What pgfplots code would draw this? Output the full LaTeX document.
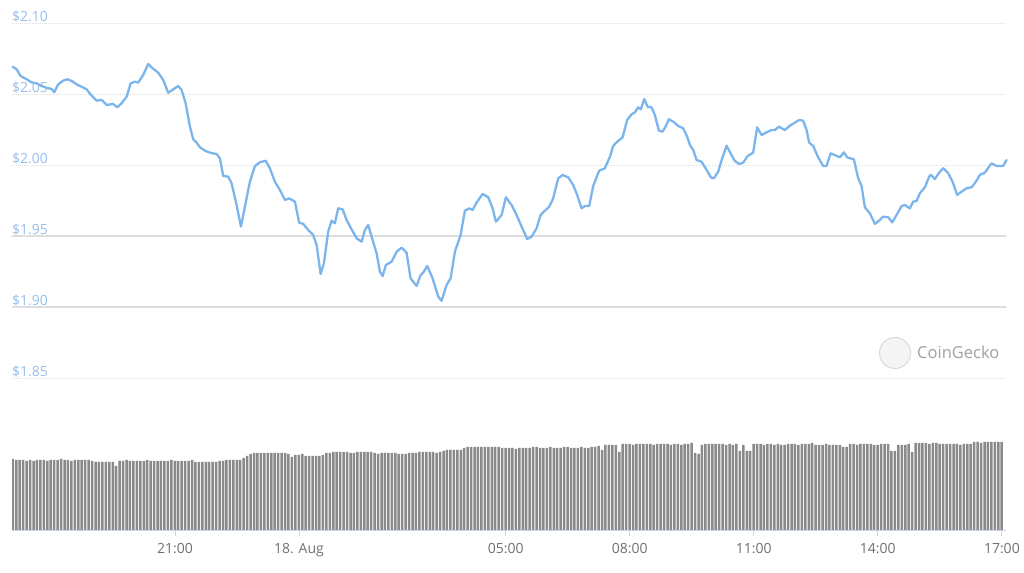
\documentclass[border=0pt]{standalone}
\usepackage{fontspec}
\setmainfont{Open Sans}
\usepackage{pgfplots}
\usepackage{pgfplotstable}
\pgfplotsset{compat=1.18}

\definecolor{linec}{RGB}{124,181,236}
\definecolor{ylab}{RGB}{150,190,236}
\definecolor{gridc}{RGB}{222,222,222}
\definecolor{barc}{RGB}{138,138,138}
\definecolor{xlab}{RGB}{112,112,112}
\definecolor{axc}{RGB}{200,212,235}
\definecolor{wmc}{RGB}{160,160,160}

% price: hours since 17:00 (17 Aug), USD
\pgfplotstableread{
t p
0.075 2.0692
0.172 2.0674
0.268 2.0627
0.414 2.0604
0.534 2.0582
0.655 2.0575
0.776 2.0556
0.897 2.0544
1.018 2.0535
1.081 2.0512
1.178 2.0568
1.299 2.0594
1.395 2.0604
1.502 2.0592
1.623 2.0568
1.744 2.0551
1.865 2.0533
1.985 2.0488
2.106 2.0453
2.227 2.0458
2.348 2.0423
2.508 2.0430
2.605 2.0406
2.711 2.0435
2.832 2.0481
2.929 2.0575
3.033 2.0587
3.112 2.0580
3.233 2.0634
3.354 2.0711
3.461 2.0681
3.596 2.0650
3.717 2.0599
3.838 2.0509
3.959 2.0533
4.080 2.0556
4.162 2.0528
4.259 2.0435
4.363 2.0270
4.443 2.0181
4.525 2.0157
4.605 2.0125
4.726 2.0101
4.846 2.0087
5.008 2.0077
5.088 2.0047
5.168 1.9923
5.289 1.9918
5.371 1.9871
5.492 1.9718
5.596 1.9566
5.693 1.9706
5.814 1.9882
5.935 1.9993
6.056 2.0019
6.193 2.0030
6.297 1.9977
6.418 1.9882
6.539 1.9824
6.660 1.9754
6.764 1.9765
6.902 1.9742
7.006 1.9594
7.103 1.9585
7.224 1.9542
7.345 1.9507
7.427 1.9437
7.524 1.9232
7.603 1.9308
7.707 1.9530
7.790 1.9608
7.869 1.9589
7.949 1.9695
8.056 1.9688
8.152 1.9613
8.273 1.9547
8.394 1.9484
8.515 1.9460
8.595 1.9542
8.675 1.9577
8.781 1.9472
8.878 1.9378
8.958 1.9249
9.023 1.9218
9.103 1.9296
9.241 1.9319
9.362 1.9389
9.482 1.9418
9.603 1.9382
9.700 1.9202
9.845 1.9148
9.942 1.9225
10.005 1.9242
10.102 1.9289
10.232 1.9202
10.368 1.9073
10.450 1.9044
10.571 1.9155
10.667 1.9202
10.772 1.9389
10.909 1.9507
11.013 1.9678
11.117 1.9695
11.200 1.9683
11.296 1.9735
11.441 1.9796
11.577 1.9773
11.683 1.9695
11.763 1.9601
11.901 1.9648
12.005 1.9773
12.143 1.9718
12.264 1.9648
12.385 1.9566
12.520 1.9479
12.626 1.9495
12.747 1.9554
12.844 1.9648
12.948 1.9678
13.052 1.9706
13.149 1.9765
13.270 1.9906
13.376 1.9930
13.512 1.9913
13.632 1.9859
13.729 1.9789
13.835 1.9695
13.915 1.9711
14.019 1.9711
14.116 1.9852
14.261 1.9960
14.399 1.9977
14.520 2.0058
14.600 2.0134
14.697 2.0164
14.827 2.0195
14.938 2.0317
15.045 2.0357
15.125 2.0371
15.204 2.0406
15.270 2.0392
15.350 2.0465
15.432 2.0411
15.528 2.0406
15.608 2.0352
15.705 2.0242
15.795 2.0235
15.867 2.0270
15.947 2.0322
16.051 2.0305
16.172 2.0275
16.293 2.0258
16.389 2.0199
16.455 2.0141
16.535 2.0106
16.617 2.0035
16.738 2.0023
16.859 1.9965
16.963 1.9913
17.035 1.9906
17.139 1.9953
17.236 2.0047
17.342 2.0136
17.439 2.0082
17.543 2.0028
17.647 2.0007
17.744 2.0016
17.850 2.0063
17.985 2.0087
18.082 2.0265
18.188 2.0211
18.309 2.0230
18.430 2.0246
18.510 2.0246
18.607 2.0270
18.752 2.0246
18.873 2.0277
18.994 2.0298
19.098 2.0317
19.194 2.0312
19.277 2.0246
19.340 2.0157
19.437 2.0134
19.557 2.0054
19.678 1.9993
19.761 1.9993
19.857 2.0082
19.961 2.0070
20.082 2.0054
20.179 2.0089
20.259 2.0054
20.421 2.0040
20.525 1.9906
20.607 1.9852
20.687 1.9702
20.808 1.9660
20.929 1.9585
21.033 1.9608
21.129 1.9636
21.250 1.9632
21.347 1.9596
21.453 1.9648
21.574 1.9711
21.654 1.9718
21.775 1.9695
21.855 1.9742
21.937 1.9746
22.017 1.9801
22.138 1.9843
22.242 1.9918
22.283 1.9930
22.380 1.9901
22.483 1.9946
22.580 1.9977
22.701 1.9942
22.808 1.9882
22.919 1.9789
23.025 1.9812
23.146 1.9836
23.267 1.9843
23.371 1.9882
23.467 1.9930
23.588 1.9946
23.750 2.0012
23.871 1.9993
24.031 1.9993
24.113 2.0035
}\price

% volume, one bar per 5 minutes (relative heights)
\pgfplotstableread[row sep=\\]{
v\\
71\\70\\70\\70\\69\\70\\69\\70\\70\\70\\69\\70\\70\\70\\71\\70\\70\\69\\70\\70\\70\\70\\70\\69\\
68\\68\\68\\68\\68\\68\\64\\
69\\69\\70\\69\\69\\69\\69\\69\\70\\69\\69\\69\\69\\69\\69\\70\\69\\69\\69\\69\\69\\70\\
68\\68\\68\\68\\68\\68\\68\\69\\69\\70\\70\\70\\70\\70\\72\\74\\
76\\77\\77\\77\\77\\77\\77\\77\\77\\77\\77\\76\\73\\75\\75\\76\\74\\74\\74\\74\\74\\75\\
77\\77\\78\\78\\78\\78\\78\\77\\77\\78\\78\\78\\78\\78\\77\\
76\\77\\77\\77\\77\\77\\76\\76\\76\\77\\77\\77\\78\\78\\78\\78\\78\\77\\78\\
79\\80\\80\\80\\80\\80\\82\\83\\83\\83\\83\\83\\83\\83\\83\\83\\83\\82\\
82\\82\\82\\81\\82\\82\\82\\82\\83\\83\\82\\82\\82\\83\\82\\
82\\82\\83\\83\\82\\82\\82\\83\\82\\82\\83\\83\\84\\80\\85\\85\\85\\85\\78\\
86\\86\\86\\85\\86\\86\\86\\86\\86\\85\\86\\86\\86\\86\\85\\86\\86\\85\\86\\86\\87\\77\\76\\
85\\86\\86\\86\\86\\86\\86\\85\\86\\85\\86\\79\\85\\79\\79\\
86\\86\\86\\85\\86\\86\\85\\86\\85\\85\\86\\86\\86\\85\\86\\86\\86\\87\\
85\\85\\85\\86\\85\\85\\85\\85\\83\\83\\
86\\86\\85\\86\\86\\86\\86\\85\\85\\86\\86\\86\\79\\79\\85\\85\\85\\86\\78\\
87\\87\\87\\87\\86\\87\\87\\86\\86\\86\\86\\86\\86\\85\\86\\86\\86\\
88\\88\\87\\88\\88\\88\\88\\88\\88\\
}\vol

\begin{document}
\begin{tikzpicture}
\path[use as bounding box] (0bp,0bp) rectangle (1024bp,573bp);

\begin{axis}[
  at={(12bp,195bp)}, anchor=south west, scale only axis,
  width=994bp, height=355bp,
  xmin=0.06, xmax=24.1, ymin=1.85, ymax=2.10,
  axis line style={draw=none},
  xtick=\empty,
  ytick={1.85,1.90,1.95,2.00,2.05,2.10},
  yticklabels={\$1.85,\$1.90,\$1.95,\$2.00,\$2.05,\$2.10},
  major tick length=0pt,
  ymajorgrids,
  major grid style={draw=gridc, line width=0.8bp, dash pattern=on 1bp off 1bp},
  extra y ticks={1.90,1.95},
  extra y tick labels={},
  extra y tick style={grid=major, major grid style={draw=gridc, solid, line width=1.3bp}},
  yticklabel style={anchor=base west, inner sep=0pt, yshift=1.5bp, text=ylab,
    font=\fontsize{14bp}{16bp}\selectfont},
  clip=false,
]
\addplot[linec, line width=2.3bp, line join=round, line cap=round] table[x=t, y=p] {\price};
\end{axis}

\begin{axis}[
  at={(12bp,43bp)}, anchor=south west, scale only axis,
  width=994bp, height=100bp,
  xmin=0.06, xmax=24.1, ymin=0, ymax=100,
  axis x line*=bottom, axis y line=none,
  x axis line style={draw=axc, line width=0.8bp, -},
  xtick={4,7,12,15,18,21,24},
  xticklabels={21:00,18. Aug,05:00,08:00,11:00,14:00,17:00},
  tick align=outside, major tick length=6bp,
  xtick style={draw=axc, line width=0.8bp},
  xticklabel style={text=xlab, inner sep=0pt, anchor=north, yshift=-7bp,
    font=\fontsize{14bp}{16bp}\selectfont},
  ytick=\empty,
]
\addplot[ybar, bar width=2.5bp, bar shift=0pt, fill=barc, draw=none]
  table[x expr=0.08+\coordindex/12, y=v] {\vol};
\end{axis}

\draw[gray!30, line width=1bp, fill=gray!8] (895bp,220bp) circle (15.5bp);
\node[anchor=base west, inner sep=0pt, text=wmc, font=\fontsize{16.5bp}{18bp}\selectfont]
  at (917bp,214bp) {CoinGecko};
\end{tikzpicture}
\end{document}
